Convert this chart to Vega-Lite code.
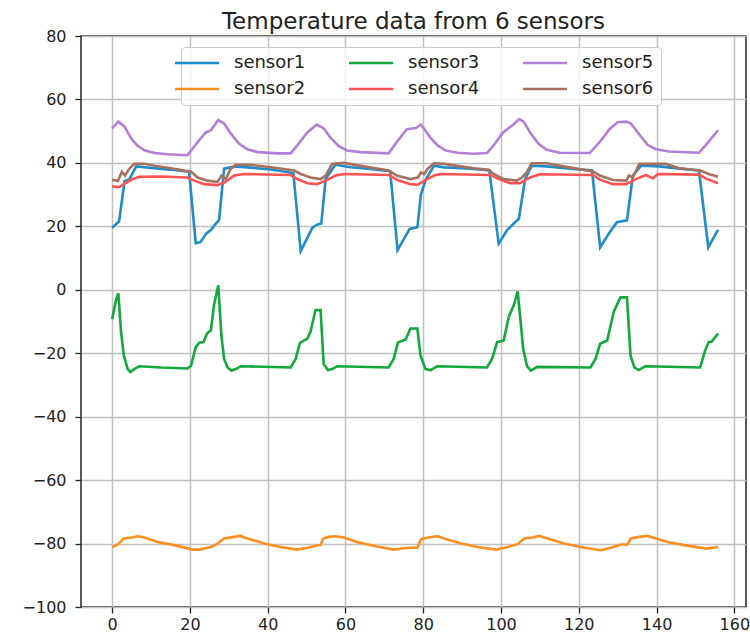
{
  "$schema": "https://vega.github.io/schema/vega-lite/v6.json",
  "width": 665,
  "height": 571,
  "autosize": {"type": "none"},
  "padding": {"left": 81, "top": 36, "right": 4, "bottom": 30},
  "background": "white",
  "title": {"text": "Temperature data from 6 sensors", "font": "DejaVu Sans", "fontSize": 23, "fontWeight": "normal", "color": "#222222", "anchor": "middle", "baseline": "alphabetic", "offset": -24},
  "config": {
    "view": {"stroke": "#222222", "strokeWidth": 1.5},
    "axis": {"labelFont": "DejaVu Sans", "labelFontSize": 16, "labelColor": "#222222", "gridColor": "#c0c0c0", "gridWidth": 1.5, "gridOpacity": 1, "domain": false, "tickColor": "#222222", "tickSize": 6, "tickWidth": 1.3, "title": null}
  },
  "data": {"values": [
    {"s":"sensor1","t":0,"v":19.5},{"s":"sensor1","t":1.8,"v":21.6},{"s":"sensor1","t":3.2,"v":34.2},{"s":"sensor1","t":4.4,"v":34.8},{"s":"sensor1","t":6.2,"v":38.9},{"s":"sensor1","t":8.3,"v":38.6},{"s":"sensor1","t":12.6,"v":38.1},{"s":"sensor1","t":16,"v":37.8},{"s":"sensor1","t":19.8,"v":37.2},{"s":"sensor1","t":21.5,"v":14.7},{"s":"sensor1","t":22.7,"v":15},{"s":"sensor1","t":24.2,"v":17.7},{"s":"sensor1","t":25.5,"v":19},{"s":"sensor1","t":26.3,"v":20.3},{"s":"sensor1","t":27.5,"v":22},{"s":"sensor1","t":28.8,"v":38.2},{"s":"sensor1","t":31.8,"v":38.9},{"s":"sensor1","t":35.6,"v":38.5},{"s":"sensor1","t":40.8,"v":37.9},{"s":"sensor1","t":46.6,"v":36.8},{"s":"sensor1","t":48.5,"v":12.2},{"s":"sensor1","t":50.3,"v":16.6},{"s":"sensor1","t":51.5,"v":19.6},{"s":"sensor1","t":52.8,"v":20.6},{"s":"sensor1","t":53.8,"v":20.9},{"s":"sensor1","t":54.9,"v":34.9},{"s":"sensor1","t":57.4,"v":39.4},{"s":"sensor1","t":61.3,"v":38.6},{"s":"sensor1","t":66.4,"v":38.1},{"s":"sensor1","t":71.5,"v":37.4},{"s":"sensor1","t":73.4,"v":12.5},{"s":"sensor1","t":74.8,"v":15.5},{"s":"sensor1","t":76.5,"v":19.2},{"s":"sensor1","t":78.5,"v":19.7},{"s":"sensor1","t":79.4,"v":30},{"s":"sensor1","t":80.7,"v":34.9},{"s":"sensor1","t":82.8,"v":39.1},{"s":"sensor1","t":85.4,"v":38.6},{"s":"sensor1","t":88.8,"v":38.4},{"s":"sensor1","t":93,"v":38.1},{"s":"sensor1","t":97,"v":37.6},{"s":"sensor1","t":99.4,"v":14.5},{"s":"sensor1","t":101.5,"v":18.7},{"s":"sensor1","t":103.2,"v":20.8},{"s":"sensor1","t":104.6,"v":22.4},{"s":"sensor1","t":106.2,"v":34.9},{"s":"sensor1","t":107.9,"v":39.1},{"s":"sensor1","t":111.7,"v":38.9},{"s":"sensor1","t":118.6,"v":38.1},{"s":"sensor1","t":123.4,"v":37.6},{"s":"sensor1","t":125.5,"v":13.4},{"s":"sensor1","t":127.7,"v":17.7},{"s":"sensor1","t":129.8,"v":21.3},{"s":"sensor1","t":132.4,"v":21.9},{"s":"sensor1","t":133.9,"v":36},{"s":"sensor1","t":136,"v":39.1},{"s":"sensor1","t":140.7,"v":38.9},{"s":"sensor1","t":146.6,"v":38.1},{"s":"sensor1","t":150.9,"v":37.6},{"s":"sensor1","t":153.3,"v":13.4},{"s":"sensor1","t":155.8,"v":18.9},
    {"s":"sensor2","t":0,"v":-81.1},{"s":"sensor2","t":1.5,"v":-80.3},{"s":"sensor2","t":3,"v":-78.4},{"s":"sensor2","t":4.9,"v":-78.1},{"s":"sensor2","t":6.6,"v":-77.7},{"s":"sensor2","t":8.3,"v":-78.1},{"s":"sensor2","t":11.7,"v":-79.5},{"s":"sensor2","t":16,"v":-80.5},{"s":"sensor2","t":20.7,"v":-81.9},{"s":"sensor2","t":22.4,"v":-81.9},{"s":"sensor2","t":25.4,"v":-81.1},{"s":"sensor2","t":27.1,"v":-80},{"s":"sensor2","t":28.8,"v":-78.4},{"s":"sensor2","t":31.4,"v":-77.9},{"s":"sensor2","t":32.9,"v":-77.6},{"s":"sensor2","t":34.8,"v":-78.4},{"s":"sensor2","t":39.1,"v":-80},{"s":"sensor2","t":43.3,"v":-81.1},{"s":"sensor2","t":47.6,"v":-81.9},{"s":"sensor2","t":50.2,"v":-81.3},{"s":"sensor2","t":52.7,"v":-80.6},{"s":"sensor2","t":53.6,"v":-80.5},{"s":"sensor2","t":54.3,"v":-78.4},{"s":"sensor2","t":55.7,"v":-77.9},{"s":"sensor2","t":57.4,"v":-77.7},{"s":"sensor2","t":59.6,"v":-78.1},{"s":"sensor2","t":62.9,"v":-79.5},{"s":"sensor2","t":68.1,"v":-80.9},{"s":"sensor2","t":72.4,"v":-81.9},{"s":"sensor2","t":75,"v":-81.5},{"s":"sensor2","t":76.7,"v":-81.3},{"s":"sensor2","t":78.5,"v":-81.3},{"s":"sensor2","t":79.4,"v":-78.7},{"s":"sensor2","t":81.1,"v":-78.1},{"s":"sensor2","t":83.7,"v":-77.7},{"s":"sensor2","t":85.4,"v":-78.4},{"s":"sensor2","t":89.7,"v":-80},{"s":"sensor2","t":94,"v":-81.1},{"s":"sensor2","t":98.7,"v":-81.9},{"s":"sensor2","t":101.7,"v":-81.1},{"s":"sensor2","t":104.3,"v":-80.2},{"s":"sensor2","t":106,"v":-78.4},{"s":"sensor2","t":108.1,"v":-78.1},{"s":"sensor2","t":109.8,"v":-77.6},{"s":"sensor2","t":112,"v":-78.4},{"s":"sensor2","t":116.2,"v":-80},{"s":"sensor2","t":121.4,"v":-81.3},{"s":"sensor2","t":125.7,"v":-82.1},{"s":"sensor2","t":128.2,"v":-81.3},{"s":"sensor2","t":130.8,"v":-80.3},{"s":"sensor2","t":132.5,"v":-80.3},{"s":"sensor2","t":133.4,"v":-78.4},{"s":"sensor2","t":135.5,"v":-77.9},{"s":"sensor2","t":137.7,"v":-77.6},{"s":"sensor2","t":139.8,"v":-78.4},{"s":"sensor2","t":142.8,"v":-79.5},{"s":"sensor2","t":147.1,"v":-80.5},{"s":"sensor2","t":152.7,"v":-81.6},{"s":"sensor2","t":155.8,"v":-81.1},
    {"s":"sensor3","t":0,"v":-9.3},{"s":"sensor3","t":1,"v":-3.2},{"s":"sensor3","t":1.6,"v":-1.1},{"s":"sensor3","t":2.3,"v":-13.3},{"s":"sensor3","t":3,"v":-20.7},{"s":"sensor3","t":4,"v":-25},{"s":"sensor3","t":4.7,"v":-25.9},{"s":"sensor3","t":5.7,"v":-25},{"s":"sensor3","t":7,"v":-24.1},{"s":"sensor3","t":12.6,"v":-24.5},{"s":"sensor3","t":19.4,"v":-24.8},{"s":"sensor3","t":20.3,"v":-23.9},{"s":"sensor3","t":21.5,"v":-18.1},{"s":"sensor3","t":22.4,"v":-16.7},{"s":"sensor3","t":23.5,"v":-16.5},{"s":"sensor3","t":24.4,"v":-13.8},{"s":"sensor3","t":25.4,"v":-12.8},{"s":"sensor3","t":26.2,"v":-4.8},{"s":"sensor3","t":27.3,"v":1.4},{"s":"sensor3","t":28.1,"v":-14.4},{"s":"sensor3","t":28.8,"v":-21.8},{"s":"sensor3","t":29.7,"v":-24.5},{"s":"sensor3","t":30.7,"v":-25.5},{"s":"sensor3","t":31.8,"v":-25},{"s":"sensor3","t":33.1,"v":-24.1},{"s":"sensor3","t":45.9,"v":-24.5},{"s":"sensor3","t":47.2,"v":-21.8},{"s":"sensor3","t":48.3,"v":-16.7},{"s":"sensor3","t":50.2,"v":-15.4},{"s":"sensor3","t":51,"v":-13.3},{"s":"sensor3","t":52.3,"v":-6.4},{"s":"sensor3","t":53.6,"v":-6.4},{"s":"sensor3","t":54.4,"v":-23.4},{"s":"sensor3","t":55.5,"v":-25.3},{"s":"sensor3","t":56.6,"v":-25},{"s":"sensor3","t":57.9,"v":-24.1},{"s":"sensor3","t":71.1,"v":-24.5},{"s":"sensor3","t":72.4,"v":-21.8},{"s":"sensor3","t":73.5,"v":-16.6},{"s":"sensor3","t":75.5,"v":-15.7},{"s":"sensor3","t":76.7,"v":-12.2},{"s":"sensor3","t":78.5,"v":-12.2},{"s":"sensor3","t":79.3,"v":-20.7},{"s":"sensor3","t":80.6,"v":-25},{"s":"sensor3","t":81.9,"v":-25.3},{"s":"sensor3","t":83.6,"v":-24.1},{"s":"sensor3","t":96.4,"v":-24.5},{"s":"sensor3","t":97.7,"v":-21.8},{"s":"sensor3","t":99,"v":-16.5},{"s":"sensor3","t":100.7,"v":-16},{"s":"sensor3","t":102,"v":-8.5},{"s":"sensor3","t":103.3,"v":-4.8},{"s":"sensor3","t":104.3,"v":-0.5},{"s":"sensor3","t":105.7,"v":-18.6},{"s":"sensor3","t":106.7,"v":-24.1},{"s":"sensor3","t":107.7,"v":-25.5},{"s":"sensor3","t":109.3,"v":-24.3},{"s":"sensor3","t":123,"v":-24.5},{"s":"sensor3","t":124.3,"v":-21.8},{"s":"sensor3","t":125.5,"v":-17},{"s":"sensor3","t":127.3,"v":-16},{"s":"sensor3","t":129,"v":-6.9},{"s":"sensor3","t":130.7,"v":-2.4},{"s":"sensor3","t":132.4,"v":-2.4},{"s":"sensor3","t":133.3,"v":-20.7},{"s":"sensor3","t":134.3,"v":-24.5},{"s":"sensor3","t":135.4,"v":-25.3},{"s":"sensor3","t":137.1,"v":-24.1},{"s":"sensor3","t":151.2,"v":-24.5},{"s":"sensor3","t":152.5,"v":-19.1},{"s":"sensor3","t":153.4,"v":-16.5},{"s":"sensor3","t":154.2,"v":-16.3},{"s":"sensor3","t":155.8,"v":-13.8},
    {"s":"sensor4","t":0,"v":32.6},{"s":"sensor4","t":1.9,"v":32.4},{"s":"sensor4","t":3.6,"v":33.8},{"s":"sensor4","t":5.3,"v":34.9},{"s":"sensor4","t":7,"v":35.6},{"s":"sensor4","t":12.6,"v":35.7},{"s":"sensor4","t":19.4,"v":35.4},{"s":"sensor4","t":21.1,"v":34.4},{"s":"sensor4","t":23.7,"v":33.3},{"s":"sensor4","t":27.1,"v":33},{"s":"sensor4","t":28.8,"v":33.8},{"s":"sensor4","t":31.4,"v":36},{"s":"sensor4","t":33.9,"v":36.5},{"s":"sensor4","t":45.9,"v":36.2},{"s":"sensor4","t":47.6,"v":34.9},{"s":"sensor4","t":50.2,"v":33.6},{"s":"sensor4","t":52.7,"v":33.3},{"s":"sensor4","t":54.9,"v":34.4},{"s":"sensor4","t":57.5,"v":36},{"s":"sensor4","t":59.6,"v":36.5},{"s":"sensor4","t":71.1,"v":36.2},{"s":"sensor4","t":73.2,"v":34.7},{"s":"sensor4","t":76.7,"v":33.3},{"s":"sensor4","t":78.6,"v":33.1},{"s":"sensor4","t":80.3,"v":34.4},{"s":"sensor4","t":82.8,"v":36},{"s":"sensor4","t":84.5,"v":36.5},{"s":"sensor4","t":97.3,"v":36.2},{"s":"sensor4","t":99.4,"v":34.9},{"s":"sensor4","t":102.4,"v":33.6},{"s":"sensor4","t":104.9,"v":33.6},{"s":"sensor4","t":107.5,"v":35.4},{"s":"sensor4","t":110,"v":36.4},{"s":"sensor4","t":123.7,"v":36.2},{"s":"sensor4","t":125.4,"v":34.7},{"s":"sensor4","t":128.8,"v":33.3},{"s":"sensor4","t":132.2,"v":33.3},{"s":"sensor4","t":134.7,"v":34.9},{"s":"sensor4","t":137.3,"v":36.2},{"s":"sensor4","t":139,"v":35.1},{"s":"sensor4","t":140.3,"v":36.5},{"s":"sensor4","t":150.9,"v":36.3},{"s":"sensor4","t":152.6,"v":35.1},{"s":"sensor4","t":155.8,"v":33.6},
    {"s":"sensor5","t":0,"v":50.9},{"s":"sensor5","t":1.6,"v":53},{"s":"sensor5","t":3.2,"v":51.4},{"s":"sensor5","t":4.9,"v":47.7},{"s":"sensor5","t":6.6,"v":45.3},{"s":"sensor5","t":8.3,"v":44},{"s":"sensor5","t":10.9,"v":43.1},{"s":"sensor5","t":14.3,"v":42.7},{"s":"sensor5","t":19.4,"v":42.4},{"s":"sensor5","t":22,"v":46.6},{"s":"sensor5","t":24.1,"v":49.6},{"s":"sensor5","t":25.4,"v":50.3},{"s":"sensor5","t":27.3,"v":53.5},{"s":"sensor5","t":28.8,"v":52.4},{"s":"sensor5","t":30.5,"v":49.3},{"s":"sensor5","t":32.6,"v":46.1},{"s":"sensor5","t":34.8,"v":44.3},{"s":"sensor5","t":37.4,"v":43.4},{"s":"sensor5","t":42.5,"v":43},{"s":"sensor5","t":45.9,"v":43},{"s":"sensor5","t":47.6,"v":45.5},{"s":"sensor5","t":50.2,"v":49.6},{"s":"sensor5","t":52.6,"v":52.1},{"s":"sensor5","t":54.4,"v":50.9},{"s":"sensor5","t":56.2,"v":47.9},{"s":"sensor5","t":58.3,"v":45.3},{"s":"sensor5","t":60.4,"v":43.9},{"s":"sensor5","t":63.8,"v":43.4},{"s":"sensor5","t":71.1,"v":43},{"s":"sensor5","t":73.2,"v":46.6},{"s":"sensor5","t":75.8,"v":50.6},{"s":"sensor5","t":78.1,"v":51},{"s":"sensor5","t":79.4,"v":52.1},{"s":"sensor5","t":80.3,"v":50.6},{"s":"sensor5","t":82,"v":47.7},{"s":"sensor5","t":83.7,"v":45.5},{"s":"sensor5","t":85.8,"v":43.9},{"s":"sensor5","t":88.8,"v":43.2},{"s":"sensor5","t":93,"v":42.9},{"s":"sensor5","t":96.4,"v":43.1},{"s":"sensor5","t":98.1,"v":45.5},{"s":"sensor5","t":100.3,"v":49.3},{"s":"sensor5","t":102,"v":51},{"s":"sensor5","t":103.2,"v":52.1},{"s":"sensor5","t":104.7,"v":53.8},{"s":"sensor5","t":105.8,"v":53},{"s":"sensor5","t":107.5,"v":49.6},{"s":"sensor5","t":109.6,"v":46.1},{"s":"sensor5","t":111.7,"v":44.1},{"s":"sensor5","t":115.1,"v":43.2},{"s":"sensor5","t":122.8,"v":43.1},{"s":"sensor5","t":125.4,"v":46.6},{"s":"sensor5","t":127.9,"v":50.6},{"s":"sensor5","t":130,"v":52.8},{"s":"sensor5","t":132.2,"v":53},{"s":"sensor5","t":133.4,"v":52.4},{"s":"sensor5","t":135.6,"v":48.9},{"s":"sensor5","t":137.7,"v":45.7},{"s":"sensor5","t":139.8,"v":44.3},{"s":"sensor5","t":143.2,"v":43.6},{"s":"sensor5","t":150.9,"v":43.2},{"s":"sensor5","t":152.6,"v":45.5},{"s":"sensor5","t":155.8,"v":50.3},
    {"s":"sensor6","t":0,"v":34.7},{"s":"sensor6","t":1.5,"v":34.3},{"s":"sensor6","t":2.5,"v":37.2},{"s":"sensor6","t":3.3,"v":36},{"s":"sensor6","t":4.4,"v":38.1},{"s":"sensor6","t":5.7,"v":39.7},{"s":"sensor6","t":8.3,"v":39.7},{"s":"sensor6","t":10.9,"v":39.1},{"s":"sensor6","t":15.1,"v":38.3},{"s":"sensor6","t":18.5,"v":37.6},{"s":"sensor6","t":20.3,"v":37.2},{"s":"sensor6","t":22,"v":35.4},{"s":"sensor6","t":24.5,"v":34.4},{"s":"sensor6","t":27.1,"v":34},{"s":"sensor6","t":28.1,"v":36},{"s":"sensor6","t":29.2,"v":34.9},{"s":"sensor6","t":30.5,"v":38.1},{"s":"sensor6","t":31.8,"v":39.4},{"s":"sensor6","t":35.6,"v":39.4},{"s":"sensor6","t":40.8,"v":38.6},{"s":"sensor6","t":46.8,"v":37.6},{"s":"sensor6","t":48.5,"v":36.5},{"s":"sensor6","t":51,"v":35.4},{"s":"sensor6","t":53.6,"v":34.9},{"s":"sensor6","t":54.9,"v":36},{"s":"sensor6","t":56.6,"v":39.7},{"s":"sensor6","t":59.6,"v":40},{"s":"sensor6","t":64.7,"v":38.9},{"s":"sensor6","t":71.1,"v":37.6},{"s":"sensor6","t":73.2,"v":36},{"s":"sensor6","t":76.7,"v":34.9},{"s":"sensor6","t":78.6,"v":35.4},{"s":"sensor6","t":79.4,"v":37},{"s":"sensor6","t":80.3,"v":36.5},{"s":"sensor6","t":81.1,"v":38.1},{"s":"sensor6","t":82.8,"v":39.9},{"s":"sensor6","t":85.4,"v":39.7},{"s":"sensor6","t":89.6,"v":38.9},{"s":"sensor6","t":93,"v":38.3},{"s":"sensor6","t":96.9,"v":37.8},{"s":"sensor6","t":98.1,"v":36.5},{"s":"sensor6","t":100.7,"v":34.9},{"s":"sensor6","t":104.1,"v":34.4},{"s":"sensor6","t":105.4,"v":35.4},{"s":"sensor6","t":106.6,"v":37},{"s":"sensor6","t":107.9,"v":39.9},{"s":"sensor6","t":111.7,"v":39.9},{"s":"sensor6","t":116,"v":38.9},{"s":"sensor6","t":123.7,"v":37.3},{"s":"sensor6","t":125.4,"v":36},{"s":"sensor6","t":128.8,"v":34.6},{"s":"sensor6","t":132.2,"v":34.4},{"s":"sensor6","t":132.9,"v":36},{"s":"sensor6","t":133.9,"v":35.4},{"s":"sensor6","t":135.6,"v":39.7},{"s":"sensor6","t":142.4,"v":39.7},{"s":"sensor6","t":145.8,"v":38.3},{"s":"sensor6","t":151.3,"v":37.6},{"s":"sensor6","t":153.4,"v":36.5},{"s":"sensor6","t":155.8,"v":35.6}
  ]},
  "mark": {"type": "line", "strokeWidth": 2.6, "clip": true},
  "encoding": {
    "x": {"field": "t", "type": "quantitative", "scale": {"domain": [-8, 163], "nice": false, "zero": false}, "axis": {"values": [0, 20, 40, 60, 80, 100, 120, 140, 160], "labelPadding": 3}},
    "y": {"field": "v", "type": "quantitative", "scale": {"domain": [-100, 80], "nice": false}, "axis": {"values": [-100, -80, -60, -40, -20, 0, 20, 40, 60, 80], "labelPadding": 9}},
    "color": {"field": "s", "type": "nominal",
      "scale": {"domain": ["sensor1", "sensor3", "sensor5", "sensor2", "sensor4", "sensor6"], "range": ["#1f8bc7", "#12a83c", "#b27fd6", "#ff8f1f", "#ff5252", "#a8705f"]},
      "legend": {"orient": "none", "legendX": 100, "legendY": 11, "direction": "horizontal", "columns": 3, "title": null,
        "symbolType": "M-4,0H4", "symbolSize": 121, "symbolStrokeWidth": 2.6,
        "labelFont": "DejaVu Sans", "labelFontSize": 18, "labelColor": "#222222", "labelOffset": 28,
        "rowPadding": 8, "columnPadding": 37, "padding": 7,
        "fillColor": "rgba(255,255,255,0.8)", "strokeColor": "#cccccc", "cornerRadius": 4}
    }
  }
}
